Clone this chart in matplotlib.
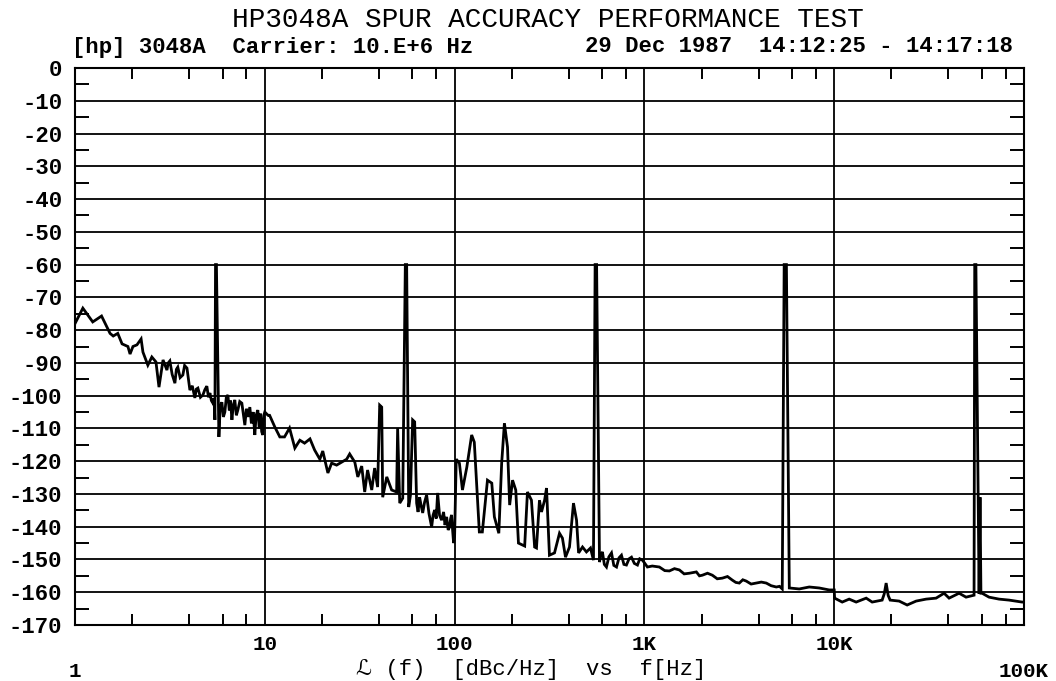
import matplotlib
matplotlib.use("Agg")

import matplotlib.pyplot as plt
import matplotlib.ticker as mtick


TITLE = "HP3048A SPUR ACCURACY PERFORMANCE TEST"
HEADER_LEFT = "[hp] 3048A  Carrier: 10.E+6 Hz"
HEADER_RIGHT = "29 Dec 1987  14:12:25 - 14:17:18"
X_LABEL = "\u2112 (f)  [dBc/Hz]  vs  f[Hz]"

decadeTicks = [10, 100, 1000, 10000]
decadeLabels = ["10", "100", "1K", "10K"]
endTicks = [1, 100000]
endLabels = ["1", "100K"]
levelTicks = list(range(0, -171, -10))

# 1 Hz .. 10 Hz (spur at 5.5 Hz)
freq1 = [1.0, 1.10, 1.24, 1.38, 1.53, 1.59, 1.68, 1.77, 1.90, 1.95, 2.02, 2.12,
         2.23, 2.28, 2.42, 2.54, 2.67, 2.77, 2.91, 3.05, 3.10, 3.16, 3.25, 3.36,
         3.42, 3.48, 3.58, 3.70, 3.78, 3.89, 3.96, 4.03, 4.15, 4.28, 4.36, 4.44,
         4.58, 4.72, 4.83, 4.95, 5.05, 5.14, 5.23, 5.33, 5.40, 5.46, 5.50, 5.56,
         5.73, 5.82, 5.94, 6.05, 6.16, 6.27, 6.39, 6.50, 6.60, 6.71, 6.82, 6.95,
         7.08, 7.21, 7.38, 7.57, 7.70, 7.85, 8.00, 8.15, 8.34, 8.50, 8.68, 8.86,
         9.00, 9.19, 9.35, 9.50, 9.63, 9.76, 9.88, 10.0]
level1 = [-78.0, -73.3, -77.5, -75.7, -81.0, -81.8, -81.0, -84.2, -85.0, -87.3, -85.0, -84.5,
          -82.7, -86.7, -90.7, -88.2, -89.7, -97.4, -89.1, -92.2, -90.0, -89.4, -93.5, -96.2,
          -92.0, -91.3, -94.5, -93.7, -90.8, -91.6, -95.0, -98.3, -97.0, -100.7, -98.0, -97.7,
          -100.5, -99.8, -98.2, -97.1, -100.5, -99.2, -101.5, -102.3, -100.8, -107.4, -60.0, -60.0,
          -112.6, -103.5, -102.0, -106.5, -105.0, -100.5, -99.8, -104.5, -101.5, -107.4, -103.0, -101.3,
          -106.0, -104.4, -101.8, -102.3, -105.5, -109.0, -104.0, -106.5, -103.5, -108.5, -105.0, -112.0,
          -106.0, -104.4, -110.0, -105.5, -111.0, -112.0, -106.0, -105.0]

# 10 Hz .. 100 Hz (spur at 55 Hz)
freq2 = [10.4, 10.6, 11.3, 12.0, 12.7, 13.5, 14.4, 15.3, 16.2, 17.3, 18.3, 19.5,
         20.2, 21.5, 22.5, 23.9, 25.4, 27.0, 28.0, 29.8, 30.9, 32.4, 33.6, 34.8,
         36.6, 37.9, 39.3, 40.3, 41.3, 41.8, 43.9, 46.6, 49.5, 50.1, 51.4, 53.3,
         55.0, 55.9, 57.3, 58.5, 60.1, 61.6, 63.1, 64.2, 65.4, 66.6, 67.9, 69.5,
         71.2, 73.3, 75.7, 77.0, 78.5, 80.0, 81.4, 83.3, 85.4, 87.5, 89.0, 90.8,
         92.5, 94.1, 95.3, 96.4, 97.6, 98.8, 100.0]
level2 = [-106.0, -106.0, -109.6, -112.6, -112.6, -109.9, -116.0, -113.6, -114.5, -113.2, -116.6, -119.4,
          -116.9, -123.6, -120.6, -121.2, -120.3, -119.4, -117.8, -120.3, -124.8, -121.5, -129.4, -122.7,
          -128.8, -122.1, -127.9, -102.9, -103.5, -131.0, -124.8, -128.8, -129.4, -109.9, -132.8, -131.3,
          -60.0, -60.0, -134.0, -130.5, -107.4, -108.0, -132.8, -135.5, -131.0, -133.5, -135.8, -132.5,
          -130.3, -136.0, -140.1, -136.5, -134.9, -137.5, -129.7, -136.5, -138.0, -135.5, -139.5, -137.0,
          -141.0, -140.1, -137.5, -136.4, -141.0, -145.0, -143.0]

# 100 Hz .. 1 kHz (spur at 550 Hz)
freq3 = [102, 106, 110, 116, 123, 127, 135, 140, 149, 157, 162, 171,
         177, 183, 190, 195, 202, 210, 217, 234, 242, 254, 264, 270,
         280, 287, 298, 305, 316, 336, 357, 370, 384, 403, 423, 439,
         450, 472, 495, 520, 539, 550, 560, 580, 590, 601, 615, 631,
         650, 671, 690, 713, 735, 757, 780, 804, 830, 855, 885, 919,
         945, 976, 1000]
level3 = [-119.4, -120.6, -128.8, -121.8, -112.0, -114.2, -141.6, -141.6, -125.8, -126.7, -137.0, -142.0,
          -120.6, -108.4, -115.7, -133.4, -125.8, -128.8, -145.0, -145.9, -129.4, -131.9, -146.2, -146.5,
          -131.9, -135.5, -131.9, -128.2, -148.7, -148.0, -142.0, -143.5, -149.3, -146.2, -132.8, -138.0,
          -148.0, -146.2, -147.7, -146.5, -150.2, -60.0, -60.0, -150.8, -148.5, -147.7, -151.5, -152.3,
          -149.2, -148.0, -151.8, -152.3, -149.5, -148.7, -151.5, -151.7, -149.8, -149.3, -151.2, -151.7,
          -149.8, -150.2, -151.0]

# 1 kHz .. 10 kHz (spur at 5.5 kHz)
freq4 = [1037, 1100, 1199, 1280, 1354, 1440, 1529, 1620, 1726, 1878, 1950, 2020,
         2150, 2280, 2420, 2574, 2740, 2905, 3030, 3162, 3300, 3442, 3650, 3886,
         4130, 4387, 4650, 4951, 5150, 5325, 5450, 5600, 5800, 6545, 7388, 8339,
         9412, 10000]
level4 = [-152.3, -152.0, -152.3, -153.4, -153.5, -152.8, -153.2, -154.4, -154.2, -153.8, -155.0, -154.8,
          -154.2, -154.8, -155.9, -155.7, -155.2, -156.3, -157.0, -157.2, -156.2, -156.6, -157.5, -157.2,
          -156.9, -157.2, -158.0, -158.4, -158.2, -159.0, -60.0, -60.0, -158.7, -159.0, -158.4, -158.7,
          -159.3, -159.3]

# 10 kHz .. 100 kHz (spur at 55 kHz)
freq5 = [10050, 11020, 11990, 13050, 14740, 15850, 17890, 18350, 18780, 19250, 19710, 21990,
         24230, 27020, 30500, 34420, 37930, 40300, 45500, 49510, 54560, 55000, 55800, 58000,
         58660, 59300, 60110, 65440, 73880, 83390, 97610, 100000]
level5 = [-161.8, -163.0, -162.1, -163.0, -161.8, -163.0, -162.4, -160.5, -157.2, -161.0, -162.4, -162.7,
          -163.9, -162.7, -162.1, -161.8, -160.3, -161.8, -160.3, -161.5, -160.9, -60.0, -60.0, -160.5,
          -131.0, -160.3, -160.3, -161.5, -162.1, -162.4, -163.0, -163.0]


def main() -> None:
    plt.rcParams["font.family"] = ["Liberation Mono", "DejaVu Sans"]

    fig = plt.figure(figsize=(10.56, 6.81), dpi=100)
    ax = fig.add_axes([75 / 1056, 1 - 625 / 681, 949 / 1056, 557 / 681])

    ax.set_xscale("log")
    ax.set_xlim(1, 100000)
    ax.set_ylim(-170, 0)

    freqHz = freq1 + freq2 + freq3 + freq4 + freq5
    levelDbc = level1 + level2 + level3 + level4 + level5
    ax.plot(freqHz, levelDbc, color="black", lw=2.0, solid_joinstyle="miter")

    # decade / 10 dB grid
    ax.set_xticks(decadeTicks)
    ax.set_xticklabels(decadeLabels, fontsize=15, fontweight="bold")
    ax.xaxis.set_minor_locator(mtick.LogLocator(base=10, subs=[2, 4, 6, 8]))
    ax.xaxis.set_minor_formatter(mtick.NullFormatter())
    ax.set_yticks(levelTicks)
    ax.set_yticklabels([str(v) for v in levelTicks], fontsize=16, fontweight="bold")
    ax.yaxis.set_minor_locator(mtick.FixedLocator(list(range(-165, 0, 10))))
    ax.grid(which="major", color="black", lw=1.3)

    ax.tick_params(which="major", length=0)
    ax.tick_params(axis="x", which="major", pad=7)
    ax.tick_params(axis="y", which="major", pad=9)
    ax.tick_params(which="minor", direction="in", color="black", width=1.4,
                   top=True, right=True)
    ax.tick_params(axis="x", which="minor", length=8)
    ax.tick_params(axis="y", which="minor", length=10)
    for spine in ax.spines.values():
        spine.set_linewidth(1.5)

    # end labels sit one line lower, next to the axis caption
    for x, label in zip(endTicks, endLabels):
        ax.text(x, -0.083, label, transform=ax.get_xaxis_transform(),
                ha="center", va="center", fontsize=15, fontweight="bold")
    fig.text(531 / 1056, 1 - 670 / 681, X_LABEL, ha="center", va="center",
             fontsize=16)

    fig.text(548 / 1056, 1 - 20 / 681, TITLE, ha="center", va="center", fontsize=20)
    fig.text(72 / 1056, 1 - 47 / 681, HEADER_LEFT, ha="left", va="center",
             fontsize=16, fontweight="bold")
    fig.text(1013 / 1056, 1 - 47 / 681, HEADER_RIGHT, ha="right", va="center",
             fontsize=16, fontweight="bold")

    fig.savefig("out.png", dpi=100)


if __name__ == "__main__":
    main()
